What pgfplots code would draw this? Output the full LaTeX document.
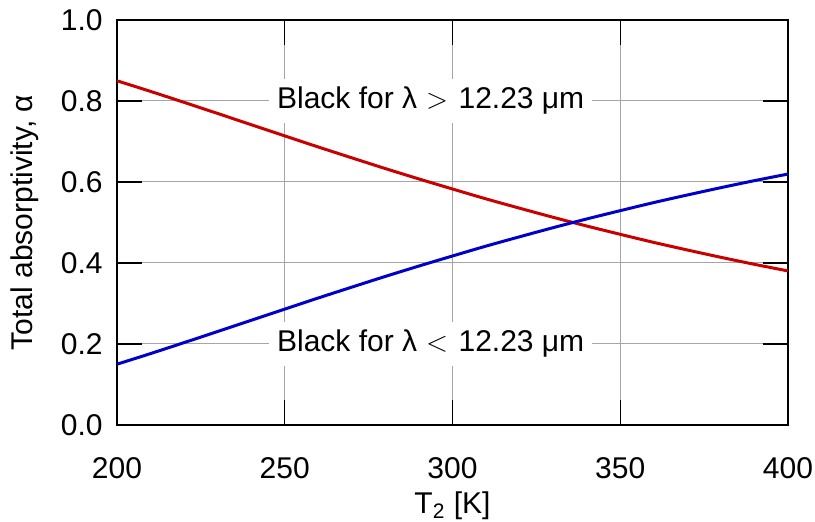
\documentclass[border=0pt]{standalone}
\usepackage{pgfplots}
\pgfplotsset{compat=1.18}
\usepackage{fontspec}
\setmainfont{Liberation Sans}
\usetikzlibrary{calc}
\definecolor{cred}{RGB}{200,0,0}
\definecolor{cblue}{RGB}{0,0,200}
\definecolor{cgrid}{RGB}{165,165,165}
\pgfplotstableread{
T blue red
200 0.1501 0.8499
210 0.1763 0.8237
220 0.2034 0.7966
230 0.2308 0.7692
240 0.2585 0.7415
250 0.2861 0.7139
260 0.3136 0.6864
270 0.3404 0.6596
280 0.3669 0.6331
290 0.3925 0.6075
300 0.4173 0.5827
310 0.4417 0.5583
320 0.4647 0.5353
330 0.4872 0.5128
340 0.5087 0.4913
350 0.5292 0.4708
360 0.5492 0.4508
370 0.5679 0.4321
380 0.5860 0.4140
390 0.6033 0.3967
400 0.6196 0.3804
}\datatab
\begin{document}
\fontsize{15}{18}\selectfont
\begin{tikzpicture}
\begin{axis}[
  width=335.5pt, height=202.5pt, scale only axis,
  xmin=200, xmax=400, ymin=0, ymax=1,
  xtick={200,250,...,400},
  ytick={0,0.2,...,1.0},
  yticklabel style={/pgf/number format/fixed,/pgf/number format/fixed zerofill,/pgf/number format/precision=1},
  /pgf/number format/assume math mode=true,
  tick label style={font=\fontsize{15}{18}\selectfont},
  label style={font=\fontsize{15}{18}\selectfont},
  xticklabel style={yshift=-11pt},
  yticklabel style={xshift=-2pt},
  tick align=inside,
  major tick length=12.5pt,
  tick style={black, line width=0.6pt},
  minor tick num=0,
  grid=major,
  major grid style={cgrid, line width=0.5pt},
  axis line style={line width=1pt},
  xlabel={T\textsubscript{2} [K]},
  ylabel={Total absorptivity, α},
  xlabel style={yshift=3.5pt},
  ylabel style={yshift=1pt},
]
\coordinate (bl) at (rel axis cs:0,0);
\coordinate (tr) at (rel axis cs:1,1);
\addplot[cred, line width=1.5pt, smooth] table[x=T, y=red] {\datatab};
\addplot[cblue, line width=1.5pt, smooth] table[x=T, y=blue] {\datatab};
\node[fill=white, inner sep=4pt] at (axis cs:293.5,0.8) {Black for λ\hspace{0.3em}$>$\hspace{0.35em}12.23 μm};
\node[fill=white, inner sep=4pt] at (axis cs:293.5,0.2) {Black for λ\hspace{0.3em}$<$\hspace{0.35em}12.23 μm};
\end{axis}
\pgfresetboundingbox
\path[use as bounding box] ($(bl)+(-58.5pt,-48.5pt)$) rectangle ($(tr)+(13.5pt,10pt)$);
\end{tikzpicture}
\end{document}
